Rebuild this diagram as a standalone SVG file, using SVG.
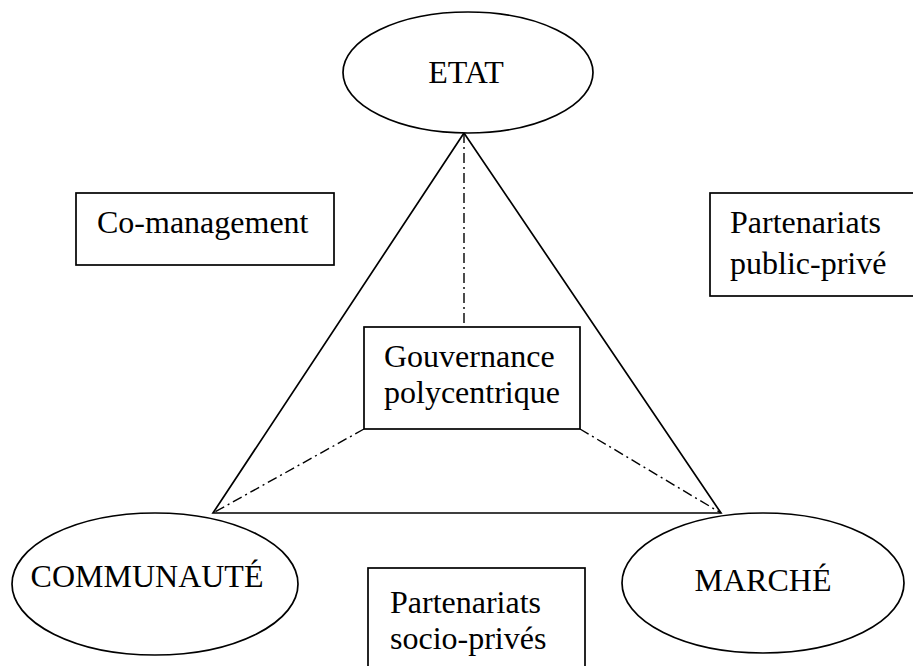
<svg xmlns="http://www.w3.org/2000/svg" width="913" height="666" viewBox="0 0 913 666">
<style>
.shape{fill:#fff;stroke:#000;stroke-width:1.7}
.line{fill:none;stroke:#000;stroke-width:1.7}
.dd{fill:none;stroke:#000;stroke-width:1.4;stroke-dasharray:10 4 2 4}
text{font-family:"Liberation Serif","Times New Roman",serif;font-size:32px;fill:#000}
.c{text-anchor:middle}
</style>
<rect width="913" height="666" fill="#fff"/>
<g id="connectors">
<polygon class="line" points="464,133 213,513 721,513"/>
<line class="dd" x1="464" y1="133" x2="464" y2="327"/>
<line class="dd" x1="364" y1="429" x2="213" y2="513"/>
<line class="dd" x1="580" y1="429" x2="721" y2="513"/>
</g>
<g id="etat">
<ellipse class="shape" cx="468" cy="72.5" rx="125" ry="60.5"/>
<text class="c" x="466" y="83">ETAT</text>
</g>
<g id="communaute">
<ellipse class="shape" cx="155" cy="584" rx="143" ry="71"/>
<text class="c" x="147" y="587">COMMUNAUTÉ</text>
</g>
<g id="marche">
<ellipse class="shape" cx="763" cy="583" rx="141" ry="70"/>
<text class="c" x="763" y="591">MARCHÉ</text>
</g>
<g id="gouvernance">
<rect class="shape" x="364" y="327" width="216" height="102"/>
<text x="384" y="367">Gouvernance</text>
<text x="384" y="403">polycentrique</text>
</g>
<g id="comanagement">
<rect class="shape" x="76" y="193" width="258" height="72"/>
<text x="97" y="233">Co-management</text>
</g>
<g id="ppp">
<rect class="shape" x="710" y="193" width="220" height="103"/>
<text x="730" y="233">Partenariats</text>
<text x="730" y="274">public-privé</text>
</g>
<g id="psp">
<rect class="shape" x="368" y="568" width="217" height="110"/>
<text x="390" y="613">Partenariats</text>
<text x="390" y="649">socio-privés</text>
</g>
</svg>
